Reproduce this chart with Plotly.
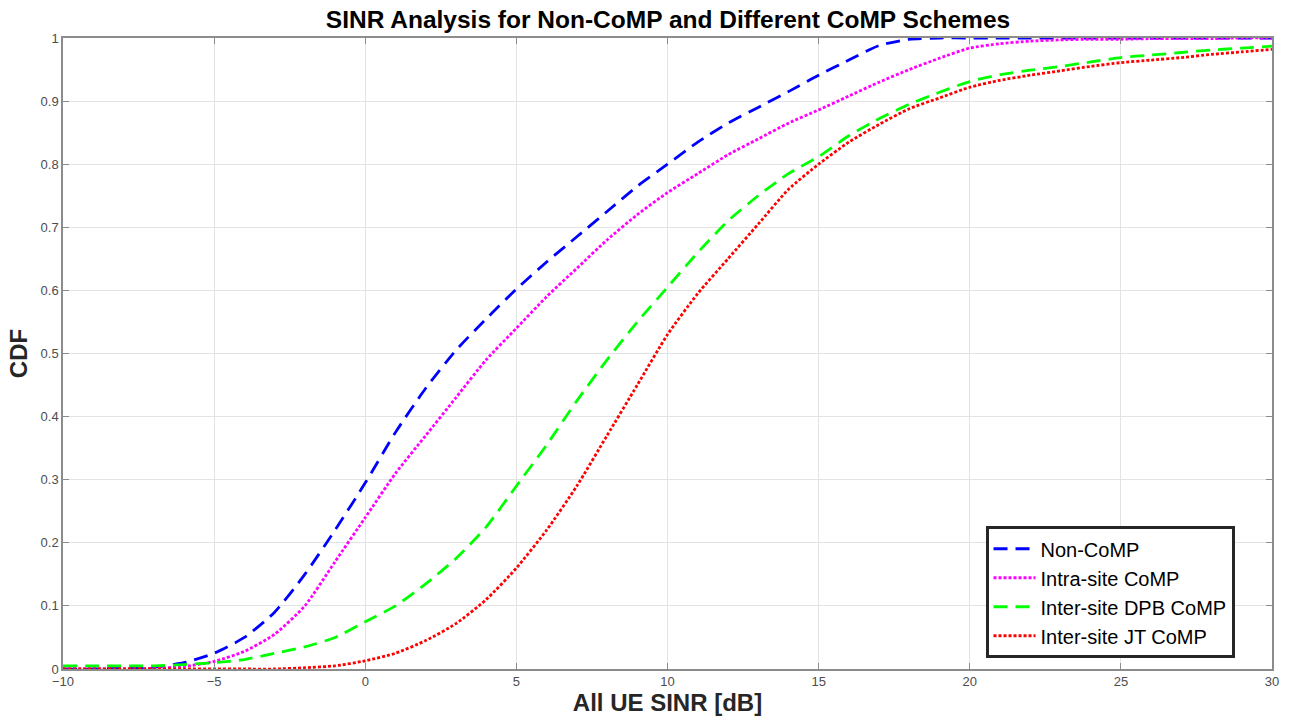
import plotly.graph_objects as go

x_vals = [-10, -9, -8, -7, -6, -5, -4, -3, -2, -1, 0, 1, 2, 3, 4, 5, 6, 7, 8, 9, 10,
          11, 12, 13, 14, 15, 16, 17, 18, 19, 20, 21, 22, 23, 24, 25, 26, 27, 28, 29, 30]

non_comp = [0.0, 0.0, 0.001, 0.003, 0.01, 0.025, 0.05, 0.09, 0.15, 0.22, 0.295, 0.375, 0.445,
            0.505, 0.555, 0.602, 0.645, 0.685, 0.725, 0.765, 0.80, 0.835, 0.865, 0.89, 0.915,
            0.941, 0.965, 0.988, 0.998, 1.0, 1.0, 1.0, 1.0, 1.0, 1.0, 1.0, 1.0, 1.0, 1.0, 1.0, 1.0]

intra_site = [0.0, 0.0, 0.0, 0.001, 0.004, 0.012, 0.028, 0.055, 0.10, 0.17, 0.24, 0.31, 0.37,
              0.43, 0.49, 0.54, 0.59, 0.635, 0.68, 0.72, 0.755, 0.785, 0.815, 0.84, 0.865,
              0.886, 0.908, 0.93, 0.95, 0.968, 0.984, 0.991, 0.995, 0.997, 0.998, 0.998,
              0.999, 0.999, 0.999, 1.0, 1.0]

inter_dpb = [0.005, 0.005, 0.005, 0.005, 0.007, 0.01, 0.015, 0.025, 0.035, 0.05, 0.075, 0.10,
             0.135, 0.175, 0.225, 0.29, 0.355, 0.425, 0.49, 0.55, 0.605, 0.66, 0.71, 0.75,
             0.785, 0.812, 0.845, 0.872, 0.895, 0.914, 0.931, 0.942, 0.949, 0.955, 0.962,
             0.969, 0.973, 0.977, 0.981, 0.984, 0.987]

inter_jt = [0.0, 0.0, 0.0, 0.0, 0.0, 0.0, 0.0, 0.0, 0.002, 0.005, 0.013, 0.025, 0.045, 0.072,
            0.11, 0.16, 0.22, 0.29, 0.37, 0.45, 0.53, 0.595, 0.65, 0.705, 0.76, 0.80, 0.835,
            0.863, 0.888, 0.905, 0.922, 0.933, 0.941, 0.948, 0.955, 0.961, 0.965, 0.969,
            0.974, 0.978, 0.982]

series = [
    ("Non-CoMP", non_comp, "#0000FF", "14px,8px"),
    ("Intra-site CoMP", intra_site, "#FF00FF", "3px,2px"),
    ("Inter-site DPB CoMP", inter_dpb, "#00FF00", "14px,8px"),
    ("Inter-site JT CoMP", inter_jt, "#FF0000", "3px,2px"),
]

fig = go.Figure()
for name, vals, color, dash in series:
    fig.add_trace(go.Scatter(
        x=x_vals, y=vals, mode="lines", name=name,
        line=dict(color=color, width=2.8, dash=dash, shape="spline", smoothing=0.6),
    ))

x_ticks = [-10, -5, 0, 5, 10, 15, 20, 25, 30]
y_ticks = [0, 0.1, 0.2, 0.3, 0.4, 0.5, 0.6, 0.7, 0.8, 0.9, 1]
y_labels = ["0", "0.1", "0.2", "0.3", "0.4", "0.5", "0.6", "0.7", "0.8", "0.9", "1"]

axis_common = dict(
    showgrid=True, gridcolor="#E3E3E3", gridwidth=1,
    showline=True, linecolor="#8C8C8C", linewidth=1.5, mirror="ticks",
    ticks="inside", ticklen=6, tickcolor="#8C8C8C",
    tickfont=dict(family="Liberation Sans, Arial", size=13, color="#4D4D4D"),
    zeroline=False,
)

fig.update_layout(
    width=1291, height=725,
    paper_bgcolor="white", plot_bgcolor="white",
    margin=dict(l=63, r=17, t=38, b=56),
    title=dict(text="<b>SINR Analysis for Non-CoMP and Different CoMP Schemes</b>",
               x=668 / 1291, xanchor="center", y=1 - 19.5 / 725, yanchor="middle",
               font=dict(family="Liberation Sans, Arial", size=24.5, color="#000000")),
    xaxis=dict(range=[-10, 30], tickvals=x_ticks,
               title=dict(text="<b>All UE SINR [dB]</b>", standoff=5,
                          font=dict(family="Liberation Sans, Arial", size=24, color="#262626")),
               **axis_common),
    yaxis=dict(range=[0, 1], tickvals=y_ticks, ticktext=y_labels,
               title=dict(text="<b>CDF</b>", standoff=6,
                          font=dict(family="Liberation Sans, Arial", size=24, color="#262626")),
               **axis_common),
    legend=dict(x=0.969, xanchor="right", y=0.017, yanchor="bottom",
                bgcolor="white", bordercolor="#262626", borderwidth=3,
                font=dict(family="Liberation Sans, Arial", size=20, color="#000000"),
                tracegroupgap=0, itemwidth=42),
    showlegend=True,
)

fig.write_html("out.html")
